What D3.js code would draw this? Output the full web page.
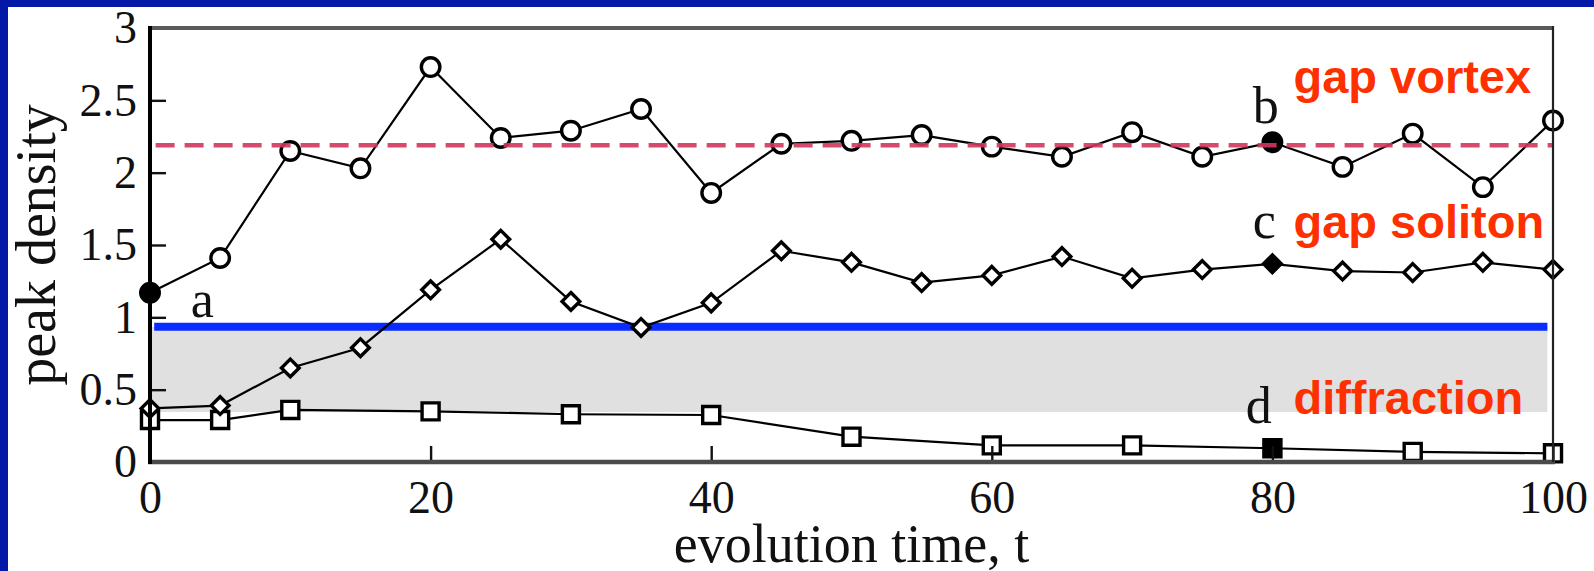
<!DOCTYPE html>
<html>
<head>
<meta charset="utf-8">
<script src="https://cdn.jsdelivr.net/npm/d3@7.9.0/dist/d3.min.js"></script>
<style>
    html, body { margin: 0; padding: 0; background: #fff; overflow: hidden; }
    #chart { display: block; }
</style>
</head>
<body>
<svg id="chart" width="1594" height="571"></svg>
<script>
// peak density vs evolution time (three runs)
var vortexT = [0, 5, 10, 15, 20, 25, 30, 35, 40, 45, 50, 55, 60, 65, 70, 75, 80, 85, 90, 95, 100]
var vortexV = [1.17, 1.41, 2.15, 2.03, 2.73, 2.24, 2.29, 2.44, 1.86, 2.2, 2.22, 2.26, 2.18, 2.11, 2.28, 2.11, 2.21, 2.04, 2.27, 1.9, 2.36]
var vortexFilled = [0, 80]

var solitonT = [0, 5, 10, 15, 20, 25, 30, 35, 40, 45, 50, 55, 60, 65, 70, 75, 80, 85, 90, 95, 100]
var solitonV = [0.37, 0.39, 0.65, 0.79, 1.19, 1.54, 1.11, 0.93, 1.1, 1.46, 1.38, 1.24, 1.29, 1.42, 1.27, 1.33, 1.37, 1.32, 1.31, 1.38, 1.33]
var solitonFilled = [80]

var diffT = [0, 5, 10, 20, 30, 40, 50, 60, 70, 80, 90, 100]
var diffV = [0.29, 0.29, 0.36, 0.35, 0.33, 0.325, 0.175, 0.115, 0.115, 0.095, 0.07, 0.06]
var diffFilled = [80]

var vortexLevel = 2.19          // dashed reference line
var thresholdLevel = 0.935      // blue line
var bandBottom = 0.345          // grey diffraction band

var xTicks = [0, 20, 40, 60, 80, 100]
var yTicks = [0, 0.5, 1, 1.5, 2, 2.5, 3]
var yTickLabels = ['0', '0.5', '1', '1.5', '2', '2.5', '3']

var letters = [
    { text: 'a', t: 2.9, v: 1.0 },
    { text: 'b', t: 78.6, v: 2.34 },
    { text: 'c', t: 78.6, v: 1.55 },
    { text: 'd', t: 78.1, v: 0.27 },
]
var regimeLabels = [
    { text: 'gap vortex', t: 81.5, v: 2.55 },
    { text: 'gap soliton', t: 81.5, v: 1.55 },
    { text: 'diffraction', t: 81.5, v: 0.33 },
]

;(function () {
    var W = 1594, H = 571
    var svg = d3.select('#chart')

    // blue slide frame along top and left edges
    svg.append('rect').attr('x', 0).attr('y', 0).attr('width', W).attr('height', 7).attr('fill', '#0418a8')
    svg.append('rect').attr('x', 0).attr('y', 0).attr('width', 8).attr('height', H).attr('fill', '#0418a8')

    var x = d3.scaleLinear().domain([0, 100]).range([150, 1553])
    var y = d3.scaleLinear().domain([0, 3]).range([462, 28])

    var serif = '"Liberation Serif", "Times New Roman", serif'

    // grey band + blue threshold
    svg.append('rect')
        .attr('x', x(0))
        .attr('y', y(thresholdLevel))
        .attr('width', x(99.6) - x(0))
        .attr('height', y(bandBottom) - y(thresholdLevel))
        .attr('fill', '#e0e0e0')

    svg.append('line')
        .attr('x1', x(0.3)).attr('x2', x(99.6))
        .attr('y1', y(thresholdLevel)).attr('y2', y(thresholdLevel))
        .attr('stroke', '#0a2cff').attr('stroke-width', 8)

    function series(ts, vs, shape, size, filled) {
        var pts = ts.map(function (t, i) { return { t: t, v: vs[i], f: filled.indexOf(t) >= 0 } })
        var line = d3.line().x(function (d) { return x(d.t) }).y(function (d) { return y(d.v) })
        svg.append('path')
            .attr('d', line(pts))
            .attr('fill', 'none')
            .attr('stroke', '#000')
            .attr('stroke-width', 2.2)

        var sym = d3.symbol().type(shape).size(size)
        svg.append('g').selectAll('path')
            .data(pts)
            .join('path')
            .attr('transform', function (d) { return 'translate(' + x(d.t) + ',' + y(d.v) + ')' })
            .attr('d', sym())
            .attr('fill', function (d) { return d.f ? '#000' : '#fff' })
            .attr('stroke', '#000')
            .attr('stroke-width', 3.4)
    }

    series(diffT, diffV, d3.symbolSquare, 290, diffFilled)
    series(solitonT, solitonV, d3.symbolDiamond2, 200, solitonFilled)
    series(vortexT, vortexV, d3.symbolCircle, 270, vortexFilled)

    // dashed vortex level
    svg.append('line')
        .attr('x1', x(0.4)).attr('x2', x(100))
        .attr('y1', y(vortexLevel)).attr('y2', y(vortexLevel))
        .attr('stroke', '#d2365e').attr('stroke-opacity', 0.9)
        .attr('stroke-width', 4.5)
        .attr('stroke-dasharray', '19,10')

    // axes
    var xAxis = d3.axisBottom(x).tickValues(xTicks).tickSizeInner(-16).tickSizeOuter(0).tickPadding(18)
    var gx = svg.append('g').attr('transform', 'translate(0,' + y(0) + ')').call(xAxis)
    var yAxis = d3.axisLeft(y).tickValues(yTicks).tickFormat(function (d, i) { return yTickLabels[i] })
        .tickSizeInner(-16).tickSizeOuter(0).tickPadding(13)
    var gy = svg.append('g').attr('transform', 'translate(' + x(0) + ',0)').call(yAxis)

    ;[gx, gy].forEach(function (g) {
        g.select('.domain').remove()
        g.selectAll('line').attr('stroke', '#111').attr('stroke-width', 2.4)
        g.selectAll('text').attr('fill', '#111').attr('font-family', serif).attr('font-size', 46)
    })

    // frame
    svg.append('line').attr('x1', x(0)).attr('x2', x(100)).attr('y1', y(3)).attr('y2', y(3))
        .attr('stroke', '#5a5a5a').attr('stroke-width', 4)
    svg.append('line').attr('x1', x(0) - 2).attr('x2', x(100) + 2).attr('y1', y(0)).attr('y2', y(0))
        .attr('stroke', '#4a4a4a').attr('stroke-width', 4.5)
    svg.append('line').attr('x1', x(100)).attr('x2', x(100)).attr('y1', y(3) - 2).attr('y2', y(0))
        .attr('stroke', '#222').attr('stroke-width', 2.2)
    svg.append('line').attr('x1', x(0)).attr('x2', x(0)).attr('y1', y(3) - 2).attr('y2', y(0) + 2)
        .attr('stroke', '#000').attr('stroke-width', 4)

    // axis titles
    svg.append('text')
        .attr('x', (x(0) + x(100)) / 2)
        .attr('y', 562)
        .attr('text-anchor', 'middle')
        .attr('font-family', serif)
        .attr('font-size', 54)
        .attr('fill', '#111')
        .text('evolution time, t')

    svg.append('text')
        .attr('transform', 'translate(55,' + (y(0) + y(3)) / 2 + ') rotate(-90)')
        .attr('text-anchor', 'middle')
        .attr('font-family', serif)
        .attr('font-size', 56)
        .attr('fill', '#111')
        .text('peak density')

    // letters a-d
    svg.append('g').selectAll('text')
        .data(letters)
        .join('text')
        .attr('x', function (d) { return x(d.t) })
        .attr('y', function (d) { return y(d.v) })
        .attr('font-family', serif)
        .attr('font-size', 52)
        .attr('fill', '#111')
        .text(function (d) { return d.text })

    // regime labels
    svg.append('g').selectAll('text')
        .data(regimeLabels)
        .join('text')
        .attr('x', function (d) { return x(d.t) })
        .attr('y', function (d) { return y(d.v) })
        .attr('font-family', '"Liberation Sans", Arial, sans-serif')
        .attr('font-weight', 'bold')
        .attr('font-size', 47)
        .attr('fill', '#ff3000')
        .text(function (d) { return d.text })
})()
</script>
</body>
</html>
